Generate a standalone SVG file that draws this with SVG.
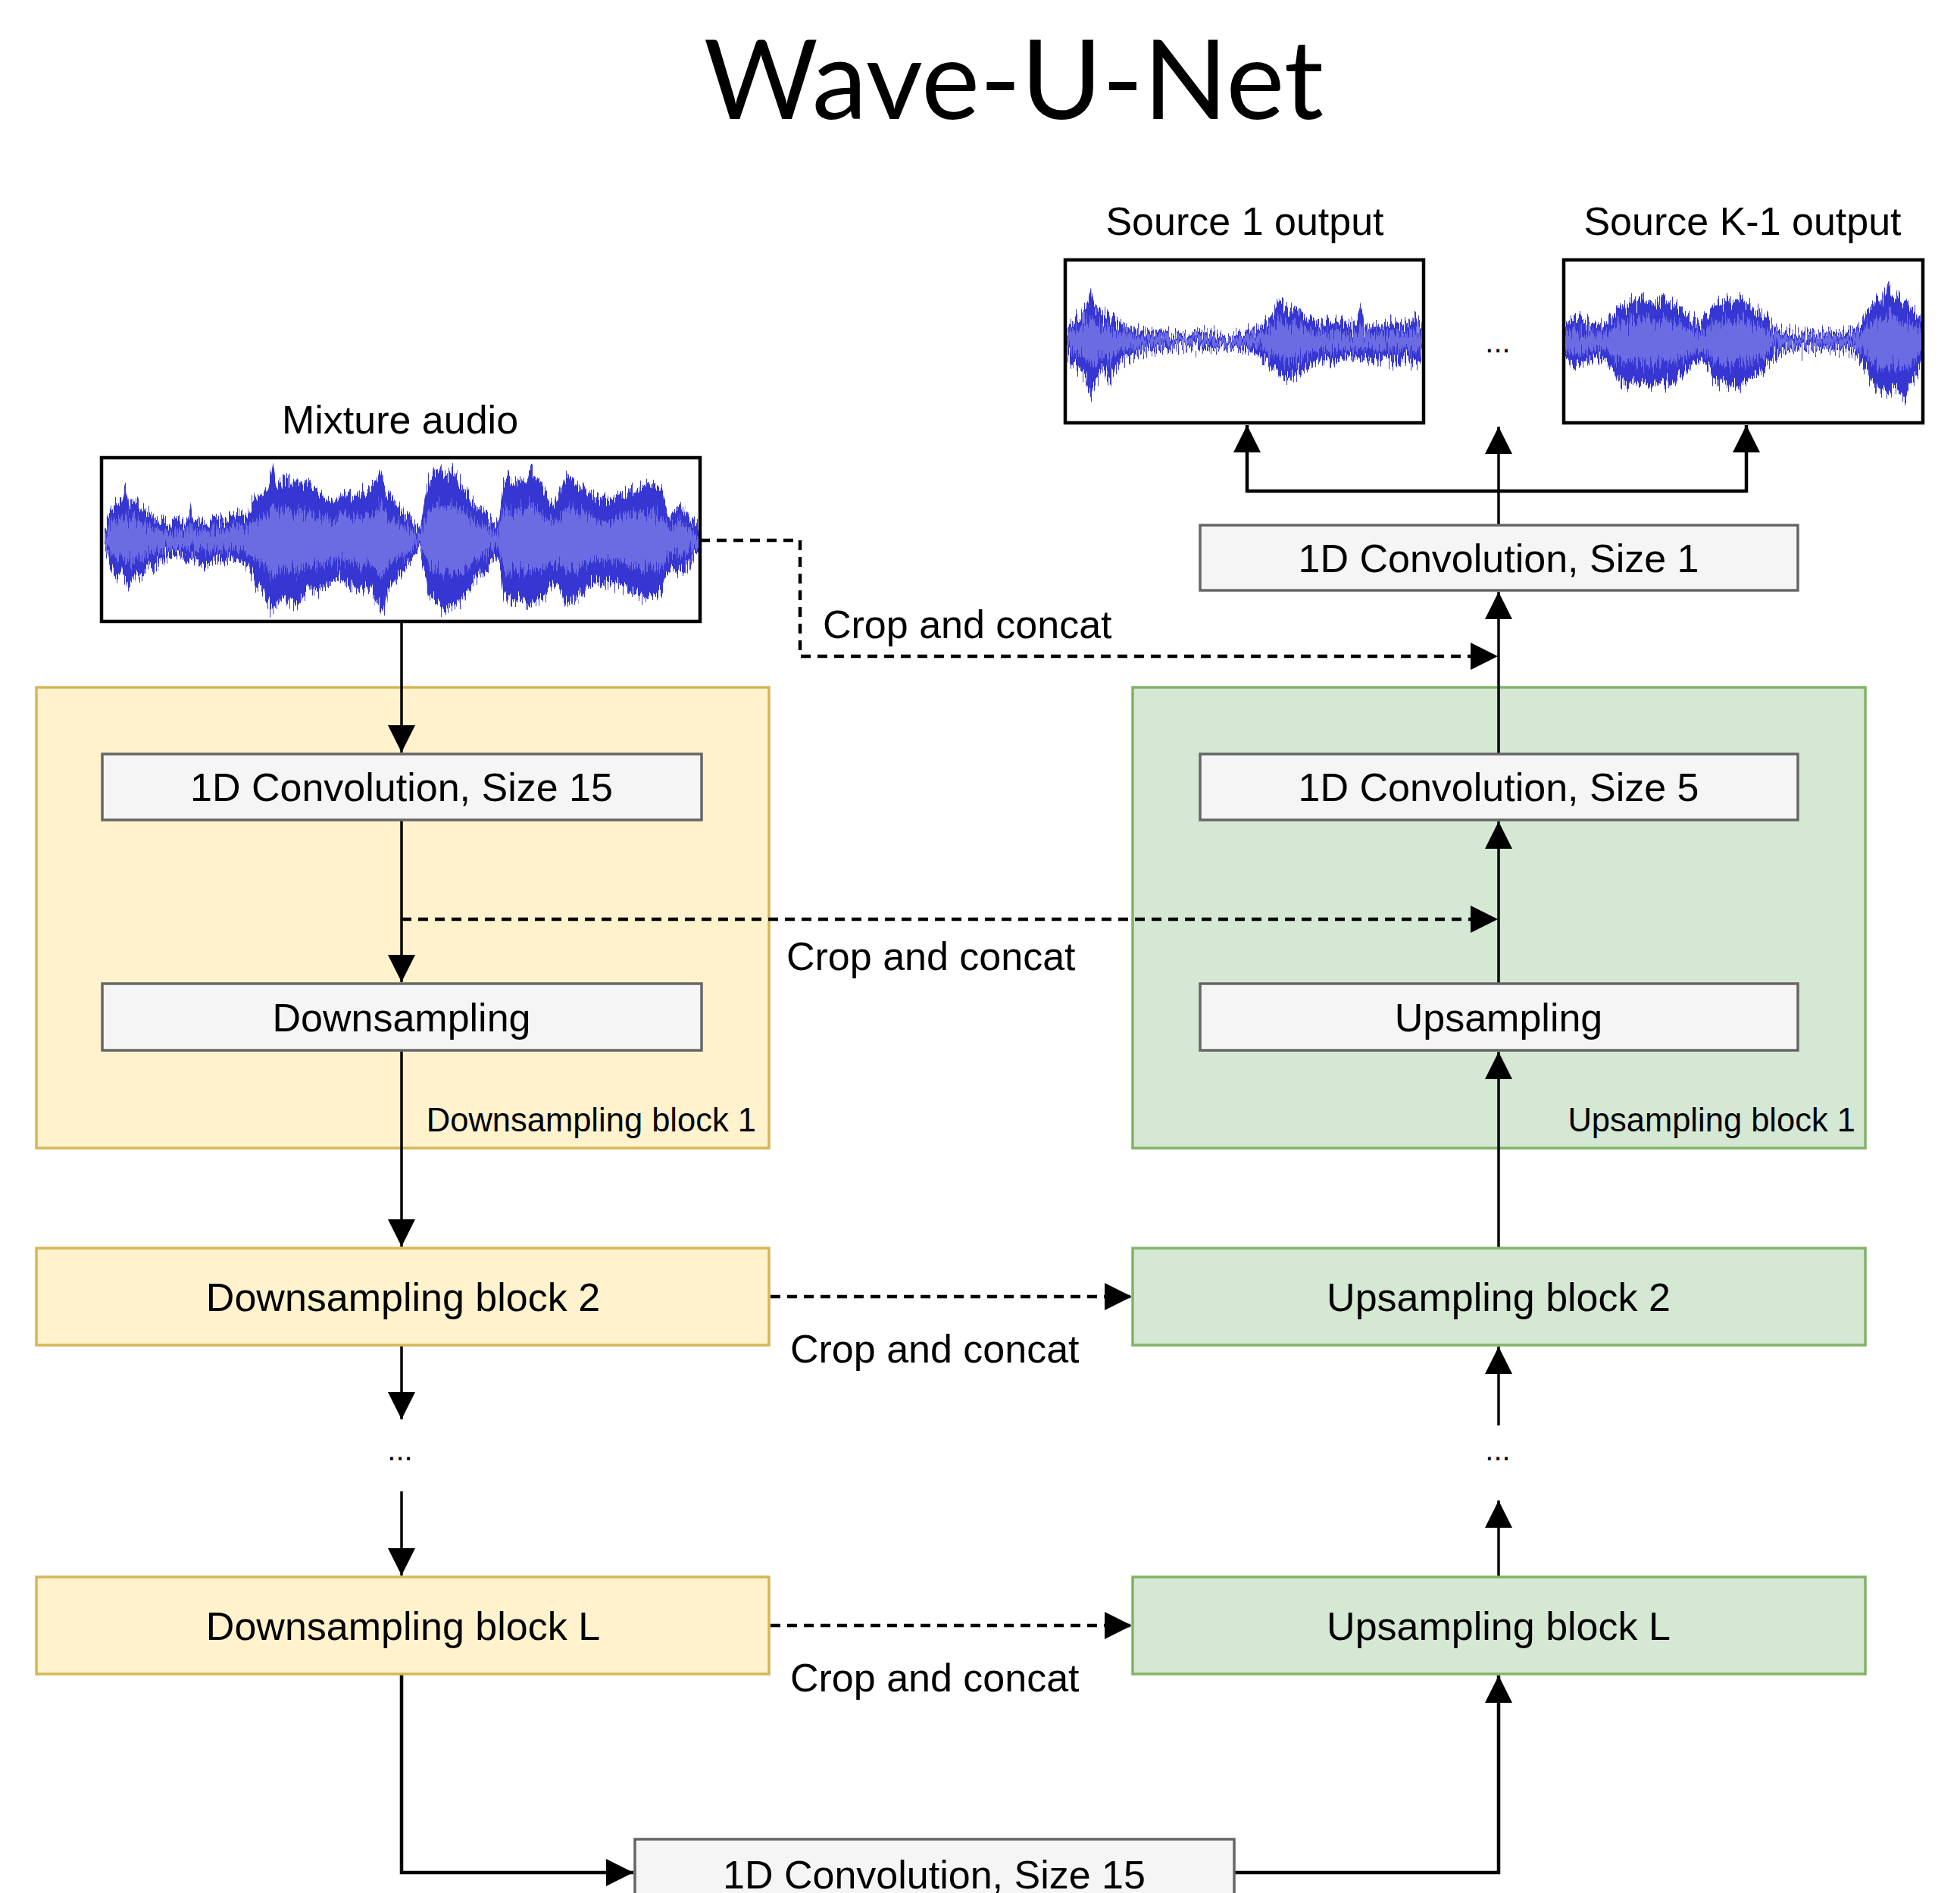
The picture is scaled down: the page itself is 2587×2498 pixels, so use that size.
<svg xmlns="http://www.w3.org/2000/svg" xmlns:xlink="http://www.w3.org/1999/xlink" width="2587" height="2498" viewBox="0 0 2587 2498">
<style>
.t{font-family:"Liberation Sans",Arial,sans-serif;fill:#000;}
.n{font-size:52px;text-anchor:middle;}
.lbl{font-size:52px;}
.small{font-size:43.5px;text-anchor:end;}
.dots{font-size:40px;text-anchor:middle;}
.box{fill:#f5f5f5;stroke:#666;stroke-width:3.5;}
.wbox{fill:#fff;stroke:#000;stroke-width:4.5;}
.ylw{fill:#fff2cc;stroke:#d6b656;stroke-width:3.5;}
.grn{fill:#d5e8d4;stroke:#82b366;stroke-width:3.5;}
.c{fill:none;stroke:#000;stroke-width:3.5;}
.c4{fill:none;stroke:#000;stroke-width:4.5;}
.d{fill:none;stroke:#000;stroke-width:4.5;stroke-dasharray:13 9;}
.wo{fill:#3636d2;}
.wi{fill:#6c6ce2;}
</style>
<defs>
<marker id="ah" markerUnits="userSpaceOnUse" markerWidth="36" markerHeight="36" refX="36" refY="18" orient="auto" viewBox="0 0 36 36">
<path d="M0,0 L36,18 L0,36 Z" fill="#000"/>
</marker>
<filter id="jag" x="-2%" y="-40%" width="104%" height="180%" color-interpolation-filters="sRGB">
<feTurbulence type="fractalNoise" baseFrequency="0.55 0.03" numOctaves="2" seed="7" result="n"/>
<feColorMatrix in="n" type="matrix" values="0 0 0 0 0.5  0 1 0 0 0  0 0 0 0 0  0 0 0 0 1" result="m"/>
<feDisplacementMap in="SourceGraphic" in2="m" scale="44" xChannelSelector="R" yChannelSelector="G"/>
</filter>
<path id="wmix" d="M138,702 L145,677 L152,667 L160,662 L166,642 L170,667 L178,657 L186,672 L195,677 L205,682 L215,687 L225,692 L235,687 L245,690 L252,667 L256,690 L265,687 L275,690 L285,684 L295,686 L305,682 L315,677 L325,680 L332,667 L338,657 L346,652 L354,647 L360,612 L364,642 L370,637 L378,627 L386,640 L392,632 L400,642 L408,634 L416,647 L424,652 L432,657 L440,664 L448,652 L456,647 L464,657 L472,650 L480,654 L488,647 L496,637 L502,612 L506,637 L512,652 L520,662 L530,672 L540,682 L548,694 L555,697 L560,662 L566,637 L572,627 L580,620 L588,627 L596,622 L604,632 L612,642 L620,657 L628,667 L636,674 L644,682 L652,694 L658,692 L664,637 L670,627 L678,642 L686,630 L694,637 L700,617 L706,627 L714,637 L722,657 L730,667 L738,652 L746,632 L754,627 L762,642 L770,637 L778,650 L786,657 L794,662 L802,662 L810,657 L818,652 L826,650 L834,644 L842,642 L850,640 L858,637 L866,644 L874,652 L880,672 L886,682 L892,672 L898,667 L904,672 L910,682 L916,692 L922,697 L922,727 L916,734 L910,742 L904,750 L898,757 L892,752 L886,747 L880,757 L874,777 L866,787 L858,784 L850,792 L842,787 L834,782 L826,774 L818,770 L810,772 L802,767 L794,772 L786,767 L778,772 L770,782 L762,790 L754,792 L746,797 L738,772 L730,772 L722,782 L714,792 L706,792 L700,802 L694,797 L686,790 L678,792 L670,797 L664,782 L658,737 L652,734 L644,747 L636,757 L628,762 L620,777 L612,792 L604,797 L596,800 L588,807 L580,797 L572,792 L566,782 L560,752 L555,727 L548,732 L540,747 L530,757 L520,767 L512,782 L506,807 L502,802 L496,792 L488,772 L480,777 L472,782 L464,772 L456,770 L448,762 L440,767 L432,772 L424,777 L416,782 L408,772 L400,787 L392,802 L386,792 L378,797 L370,787 L364,802 L360,807 L354,797 L346,777 L338,772 L332,757 L325,747 L315,740 L305,737 L295,742 L285,737 L275,747 L265,742 L256,737 L245,740 L235,732 L225,734 L215,740 L205,744 L195,752 L186,762 L178,757 L170,772 L166,767 L160,754 L152,762 L145,742 L138,722 Z"/>
<path id="ws1" d="M1408,435 L1414,425 L1420,420 L1428,415 L1434,405 L1440,385 L1444,400 L1450,410 L1456,420 L1462,405 L1466,420 L1472,425 L1480,428 L1490,432 L1500,435 L1510,437 L1520,438 L1530,436 L1540,439 L1550,441 L1560,442 L1570,440 L1580,438 L1590,438 L1600,439 L1610,440 L1620,441 L1630,440 L1640,438 L1650,436 L1660,434 L1668,430 L1676,420 L1684,405 L1690,395 L1696,402 L1702,410 L1710,408 L1718,412 L1726,420 L1734,422 L1742,428 L1750,425 L1758,426 L1766,420 L1774,428 L1782,430 L1790,428 L1796,405 L1800,430 L1808,432 L1818,428 L1828,430 L1838,426 L1848,428 L1858,424 L1866,422 L1872,426 L1877,430 L1877,470 L1872,478 L1866,480 L1858,472 L1848,475 L1838,478 L1828,472 L1818,475 L1808,472 L1800,475 L1796,470 L1790,476 L1782,472 L1774,474 L1766,475 L1758,480 L1750,475 L1742,478 L1734,480 L1726,485 L1718,490 L1710,495 L1702,500 L1696,500 L1690,495 L1684,490 L1676,485 L1668,472 L1660,468 L1650,464 L1640,462 L1630,459 L1620,459 L1610,460 L1600,460 L1590,462 L1580,461 L1570,459 L1560,459 L1550,460 L1540,462 L1530,462 L1520,464 L1510,465 L1500,468 L1490,472 L1480,475 L1472,480 L1466,505 L1462,500 L1456,485 L1450,495 L1444,510 L1440,520 L1434,500 L1428,490 L1420,485 L1414,478 L1408,465 Z"/>
<path id="wsk" d="M2066,430 L2072,422 L2078,418 L2084,422 L2090,426 L2098,428 L2106,425 L2114,430 L2122,425 L2130,415 L2136,405 L2142,400 L2148,405 L2154,395 L2160,398 L2166,390 L2172,400 L2178,395 L2184,402 L2190,398 L2196,392 L2202,400 L2208,405 L2214,402 L2220,410 L2226,415 L2232,420 L2238,425 L2244,428 L2250,420 L2256,412 L2262,405 L2268,400 L2274,402 L2280,395 L2286,400 L2292,395 L2298,390 L2304,402 L2310,400 L2316,408 L2322,410 L2328,415 L2334,425 L2340,430 L2348,435 L2356,438 L2364,438 L2372,440 L2380,439 L2388,441 L2396,439 L2404,440 L2412,438 L2420,439 L2428,440 L2436,438 L2444,436 L2452,432 L2458,425 L2464,415 L2470,405 L2476,395 L2482,400 L2488,385 L2494,372 L2498,395 L2504,390 L2510,400 L2516,395 L2520,405 L2526,410 L2532,415 L2536,425 L2536,478 L2532,490 L2526,500 L2520,510 L2516,528 L2510,520 L2504,515 L2498,510 L2494,522 L2488,515 L2482,520 L2476,510 L2470,505 L2464,490 L2458,478 L2452,470 L2444,465 L2436,462 L2428,461 L2420,462 L2412,460 L2404,461 L2396,460 L2388,460 L2380,460 L2372,461 L2364,462 L2356,464 L2348,468 L2340,472 L2334,480 L2328,488 L2322,495 L2316,495 L2310,500 L2304,505 L2298,508 L2292,505 L2286,512 L2280,508 L2274,502 L2268,505 L2262,500 L2256,490 L2250,482 L2244,478 L2238,480 L2232,485 L2226,492 L2220,498 L2214,500 L2208,508 L2202,505 L2196,502 L2190,508 L2184,505 L2178,512 L2172,508 L2166,505 L2160,510 L2154,502 L2148,510 L2142,505 L2136,500 L2130,490 L2122,478 L2114,472 L2106,475 L2098,478 L2090,480 L2084,485 L2078,485 L2072,478 L2066,472 Z"/>
<clipPath id="cmix"><rect x="136" y="606" width="786" height="212"/></clipPath>
<clipPath id="cs1"><rect x="1408" y="345" width="469" height="211"/></clipPath>
<clipPath id="csk"><rect x="2066" y="345" width="470" height="211"/></clipPath>
</defs>

<text class="t" x="1338" y="157" style="font-family:Lato,'Liberation Sans',sans-serif" font-size="146" text-anchor="middle">Wave-U-Net</text>

<g id="down-block-1"><rect class="ylw" x="48" y="907" width="967" height="608"/>
<text class="t small" x="998" y="1493">Downsampling block 1</text></g>
<g id="up-block-1"><rect class="grn" x="1495" y="907" width="967" height="608"/>
<text class="t small" x="2449" y="1493">Upsampling block 1</text></g>

<g id="connectors">
<path class="c" d="M530,820 V993" marker-end="url(#ah)"/>
<path class="c" d="M530,1082 V1296" marker-end="url(#ah)"/>
<path class="c" d="M530,1386 V1645" marker-end="url(#ah)"/>
<path class="c" d="M530,1775 V1873" marker-end="url(#ah)"/>
<path class="c" d="M530,1968 V2079" marker-end="url(#ah)"/>
<path class="c4" d="M530,2209 V2471 H836" marker-end="url(#ah)"/>
<path class="c4" d="M1629,2471 H1978 V2211" marker-end="url(#ah)"/>
<path class="c" d="M1978,2081 V1980" marker-end="url(#ah)"/>
<path class="c" d="M1978,1881 V1777" marker-end="url(#ah)"/>
<path class="c" d="M1978,1647 V1388" marker-end="url(#ah)"/>
<path class="c" d="M1978,1298 V1084" marker-end="url(#ah)"/>
<path class="c" d="M1978,995 V781" marker-end="url(#ah)"/>
<path class="c" d="M1978,693 V563" marker-end="url(#ah)"/>
<path class="c4" d="M1646,648 H2305"/>
<path class="c4" d="M1646,650 V561" marker-end="url(#ah)"/>
<path class="c4" d="M2305,650 V561" marker-end="url(#ah)"/>
<path class="d" d="M924,713 H1056 V866 H1977" marker-end="url(#ah)"/>
<path class="d" d="M530,1213 H1977" marker-end="url(#ah)"/>
<path class="d" d="M1017,1711 H1494" marker-end="url(#ah)"/>
<path class="d" d="M1017,2145 H1494" marker-end="url(#ah)"/>
</g>

<g id="mixture-audio">
<text class="t n" x="528" y="572">Mixture audio</text>
<rect class="wbox" x="134" y="604" width="790" height="216"/>
<g clip-path="url(#cmix)" filter="url(#jag)">
<use xlink:href="#wmix" href="#wmix" class="wo"/>
<use xlink:href="#wmix" href="#wmix" class="wi" transform="translate(0,712) scale(1,0.5) translate(0,-712)"/>
</g>
</g>

<g id="source-1-output">
<text class="t n" x="1643" y="310">Source 1 output</text>
<rect class="wbox" x="1406" y="343" width="473" height="215"/>
<g clip-path="url(#cs1)" filter="url(#jag)">
<use xlink:href="#ws1" href="#ws1" class="wo"/>
<use xlink:href="#ws1" href="#ws1" class="wi" transform="translate(0,450) scale(1,0.5) translate(0,-450)"/>
</g>
</g>

<g id="source-k1-output">
<text class="t n" x="2300" y="310">Source K-1 output</text>
<rect class="wbox" x="2064" y="343" width="474" height="215"/>
<g clip-path="url(#csk)" filter="url(#jag)">
<use xlink:href="#wsk" href="#wsk" class="wo"/>
<use xlink:href="#wsk" href="#wsk" class="wi" transform="translate(0,450) scale(1,0.5) translate(0,-450)"/>
</g>
</g>

<g id="dots-top"><text class="t dots" x="1977" y="465">...</text></g>

<g id="conv1"><rect class="box" x="1584" y="693" width="789" height="86"/>
<text class="t n" x="1978" y="755">1D Convolution, Size 1</text></g>

<g id="conv15-left"><rect class="box" x="135" y="995" width="791" height="87"/>
<text class="t n" x="530" y="1057">1D Convolution, Size 15</text></g>
<g id="downsampling"><rect class="box" x="135" y="1298" width="791" height="88"/>
<text class="t n" x="530" y="1361">Downsampling</text></g>

<g id="conv5"><rect class="box" x="1584" y="995" width="789" height="87"/>
<text class="t n" x="1978" y="1057">1D Convolution, Size 5</text></g>
<g id="upsampling"><rect class="box" x="1584" y="1298" width="789" height="88"/>
<text class="t n" x="1978" y="1361">Upsampling</text></g>

<g id="down-block-2"><rect class="ylw" x="48" y="1647" width="967" height="128"/>
<text class="t n" x="532" y="1730">Downsampling block 2</text></g>
<g id="up-block-2"><rect class="grn" x="1495" y="1647" width="967" height="128"/>
<text class="t n" x="1978" y="1730">Upsampling block 2</text></g>

<g id="dots-left"><text class="t dots" x="528" y="1927">...</text></g>
<g id="dots-right"><text class="t dots" x="1977" y="1927">...</text></g>

<g id="down-block-L"><rect class="ylw" x="48" y="2081" width="967" height="128"/>
<text class="t n" x="532" y="2164">Downsampling block L</text></g>
<g id="up-block-L"><rect class="grn" x="1495" y="2081" width="967" height="128"/>
<text class="t n" x="1978" y="2164">Upsampling block L</text></g>

<g id="conv15-bottom"><rect class="box" x="838" y="2427" width="791" height="110"/>
<text class="t n" x="1233" y="2492">1D Convolution, Size 15</text></g>

<g id="labels">
<text class="t lbl" x="1086" y="842">Crop and concat</text>
<text class="t lbl" x="1038" y="1280">Crop and concat</text>
<text class="t lbl" x="1043" y="1798">Crop and concat</text>
<text class="t lbl" x="1043" y="2232">Crop and concat</text>
</g>
</svg>
